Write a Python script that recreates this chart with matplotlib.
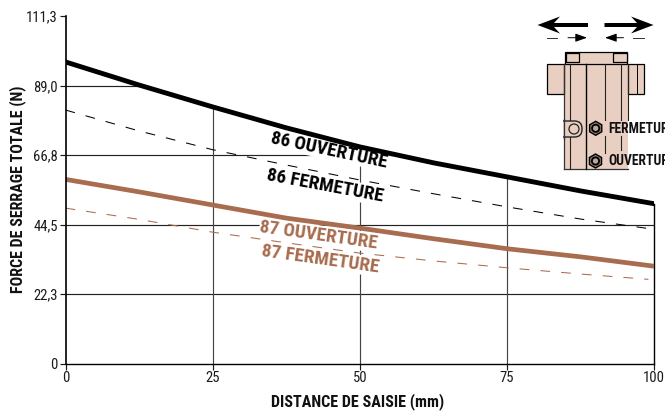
#!/usr/bin/env python3

import matplotlib
matplotlib.use('Agg')
import matplotlib.pyplot as plt
from matplotlib import font_manager
from matplotlib.patches import Rectangle, Circle, RegularPolygon, FancyBboxPatch

installed = {f.name for f in font_manager.fontManager.ttflist}
# narrow face if there is one, else shrink the plain one to about the same width
fscale = 1.0 if 'Roboto Condensed' in installed else 0.84
plt.rcParams['font.family'] = ['Roboto Condensed'] if fscale == 1.0 else ['Liberation Sans']
plt.rcParams['lines.scale_dashes'] = False

distance = [0, 12.5, 25, 37.5, 50, 62.5, 75, 87.5, 100]
open_86 = [96.6, 89.2, 82.2, 75.5, 69.4, 64.3, 59.8, 55.3, 51.2]
close_86 = [81.2, 74.5, 68.5, 63.6, 58.8, 54.4, 50.2, 46.3, 43.0]
open_87 = [59.0, 55.0, 50.8, 46.6, 43.4, 40.0, 36.8, 34.2, 31.2]
close_87 = [49.8, 46.2, 42.1, 38.7, 35.4, 32.9, 30.7, 28.7, 26.8]

xticks = [0, 25, 50, 75, 100]
yticks = [0, 22.3, 44.5, 66.8, 89.0, 111.3]
ylabels = ['0', '22,3', '44,5', '66,8', '89,0', '111,3']

black = '#000000'
brown = '#a86c4e'
body = '#e8cfc1'
dark = '#1a1a1a'

W, H = 665, 411
fig = plt.figure(figsize=(W / 100, H / 100), dpi=100)
ax = fig.add_axes([65.5 / W, (H - 363.7) / H, (654.3 - 65.5) / W, (363.7 - 16) / H])
ax.set_xlim(0, 100)
ax.set_ylim(0, 111.3)

# pixel overlay for the labels and the little cylinder drawing
ov = fig.add_axes([0, 0, 1, 1], zorder=5)
ov.set_xlim(0, W)
ov.set_ylim(H, 0)
ov.axis('off')

# grid, then white above the top curve so the grid stops there
for y in yticks[1:5]:
    ax.axhline(y, color='#222222', lw=0.85, zorder=1)
for x in xticks[1:4]:
    ax.axvline(x, color='#444444', lw=0.85, zorder=1)
ax.fill_between(distance, open_86, 113, color='white', lw=0, zorder=1.5, clip_on=False)

ax.plot(distance, open_86, color=black, lw=3.5, zorder=3, solid_capstyle='butt')
ax.plot(distance, close_86, color=black, lw=0.75, dashes=(7, 8), zorder=3)
ax.plot(distance, open_87, color=brown, lw=3.4, zorder=3, solid_capstyle='butt')
ax.plot(distance[:-1] + [99], close_87[:-1] + [27.0], color=brown, lw=0.75, dashes=(7, 8), zorder=3)

ax.set_xticks(xticks)
ax.set_xticklabels([str(x) for x in xticks])
ax.set_yticks(yticks)
ax.set_yticklabels(ylabels)
ax.tick_params(axis='both', length=4.5, width=0.85, color=dark, labelcolor=dark, labelsize=10.5 * fscale, pad=1)
ax.spines['top'].set_visible(False)
ax.spines['left'].set_linewidth(1.2)
ax.spines['left'].set_zorder(4)
ax.spines['bottom'].set_linewidth(1.0)
ax.spines['right'].set_linewidth(1.0)
ax.spines['right'].set_bounds(0, 51.2)

ov.text(357.5, 402, 'DISTANCE DE SAISIE (mm)', ha='center', va='center', fontsize=11.6 * fscale, fontweight='bold', color='#111111')
ov.text(18, 189, 'FORCE DE SERRAGE TOTALE (N)', ha='center', va='center', rotation=90, fontsize=11.5 * fscale, fontweight='bold', color='#111111')

# curve labels, white box cuts the grid behind them
labels = [('86 OUVERTURE', 329.5, 150, -12, black),
          ('86 FERMETURE', 325, 186, -10.5, black),
          ('87 OUVERTURE', 319, 235, -8, brown),
          ('87 FERMETURE', 320, 259, -8, brown)]
for txt, px, py, rot, col in labels:
    ax.text(px, py, txt, transform=ov.transData, ha='center', va='center', rotation=rot,
            rotation_mode='anchor', fontsize=13.8 * fscale, fontweight='bold', color=col, zorder=2,
            bbox=dict(facecolor='white', edgecolor='none', pad=0.5))

# cylinder drawing
ov.add_patch(Rectangle((563.5, 64), 64.5, 105.5, fc=body, ec='none'))
ov.add_patch(Rectangle((565, 52), 62, 12, fc=body, ec=black, lw=0.9))
ov.add_patch(Rectangle((565.5, 53), 13.5, 9, fc=body, ec=black, lw=0.9))
ov.add_patch(Rectangle((613, 53), 13.5, 9, fc=body, ec=black, lw=0.9))
ov.add_patch(Rectangle((546.5, 64), 17, 30, fc=body, ec=black, lw=0.9))
ov.add_patch(Rectangle((628, 64), 16, 30, fc=body, ec=black, lw=0.9))
ov.plot([637, 637], [64, 94], color=black, lw=0.7)
ov.plot([563.5, 563.5], [64, 169.5], color='#333333', lw=0.9)
ov.plot([563.5, 628], [169.5, 169.5], color='#333333', lw=0.9)
ov.plot([570, 570], [64, 169.5], color='#222222', lw=0.8)
ov.plot([586, 586], [64, 169.5], color=black, lw=1.0)
ov.plot([605.3, 605.3], [64, 120], color='#222222', lw=0.8)
ov.plot([605.3, 605.3], [136, 153], color='#222222', lw=0.8)
ov.plot([621.3, 621.3], [64, 120], color='#222222', lw=0.8)
ov.plot([621.3, 621.3], [136, 150], color='#222222', lw=0.8)
ov.plot([627.5, 627.5], [64, 120], color='#222222', lw=0.8)

ov.add_patch(FancyBboxPatch((556, 121), 26, 16, boxstyle='round,pad=0,rounding_size=7.5', fc=body, ec='#222222', lw=1.0, zorder=3))
ov.add_patch(Rectangle((552, 118), 11.2, 22, fc='white', ec='none', zorder=3.1))
ov.plot([563.5, 563.5], [119, 139], color='#333333', lw=0.9, zorder=3.2)
ov.add_patch(Circle((574, 129), 5, fc=body, ec='#222222', lw=0.9, zorder=3.2))

for nx, ny in [(595.7, 128.3), (595.5, 161)]:
    ov.add_patch(RegularPolygon((nx, ny), 6, radius=7, fc='#8a7a70', ec=black, lw=1.0, zorder=3))
    ov.add_patch(Circle((nx, ny), 3.6, fc='#b9a79b', ec=black, lw=1.3, zorder=3.1))

ov.text(608, 128.5, 'FERMETURE', ha='left', va='center', fontsize=9.8 * fscale, fontweight='bold', color='#111111', zorder=4)
ov.text(608, 160.5, 'OUVERTURE', ha='left', va='center', fontsize=9.8 * fscale, fontweight='bold', color='#111111', zorder=4)

# direction arrows
ov.fill([537.5, 560, 554, 588, 588, 554, 560], [25, 16.5, 23, 23, 27, 27, 33.5], color=black, lw=0)
ov.fill([653.5, 631, 637, 604.5, 604.5, 637, 631], [25, 16.5, 23, 23, 27, 27, 33.5], color=black, lw=0)
small = dict(arrowstyle='-|>,head_length=0.7,head_width=0.25', color=black, lw=0.7, mutation_scale=10, shrinkA=0, shrinkB=0)
ov.annotate('', xy=(587, 37.7), xytext=(568, 37.7), arrowprops=small)
ov.annotate('', xy=(605, 37.7), xytext=(623.5, 37.7), arrowprops=small)
ov.plot([546.5, 556.5], [37.7, 37.7], color='#333333', lw=0.7)
ov.plot([633, 644], [37.7, 37.7], color='#333333', lw=0.7)

plt.savefig('out.png', dpi=100)
